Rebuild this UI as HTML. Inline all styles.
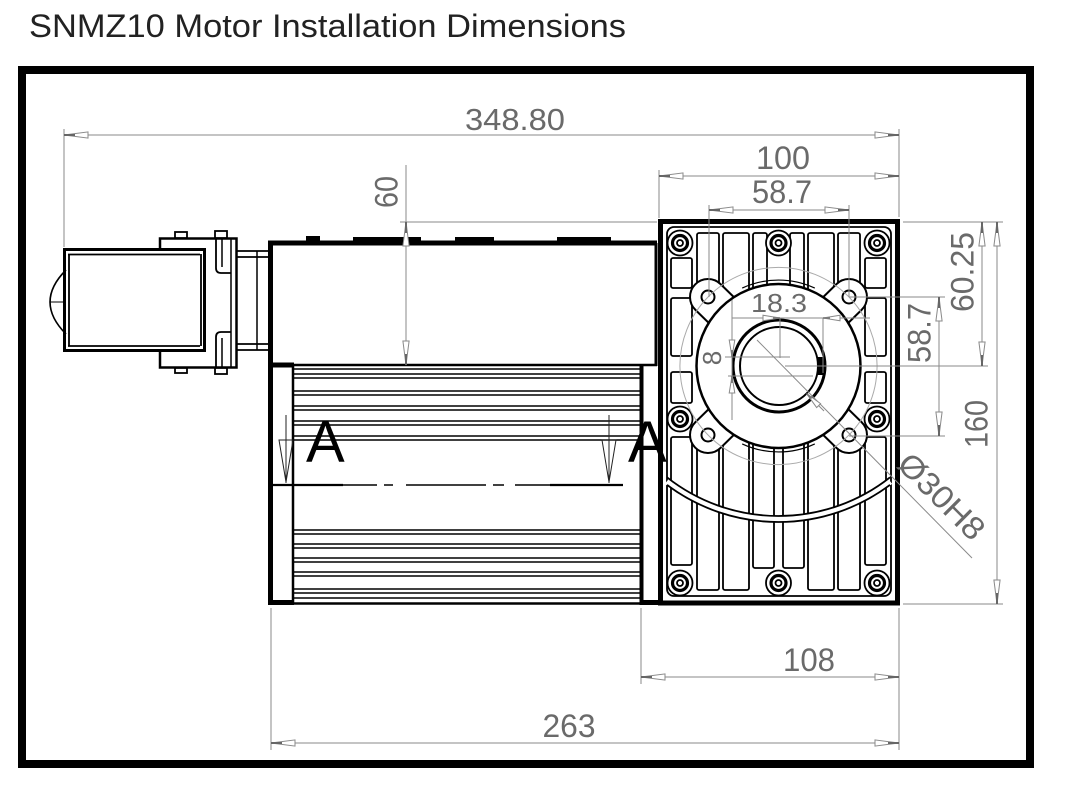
<!DOCTYPE html>
<html>
<head>
<meta charset="utf-8">
<style>
  html,body{margin:0;padding:0;background:#fff;}
  svg{display:block;}
  .t{font-family:"Liberation Sans",sans-serif;fill:#6a6a6a;font-size:32px;}
</style>
</head>
<body>
<svg width="1091" height="786" viewBox="0 0 1091 786" xmlns="http://www.w3.org/2000/svg">
<defs>
  <marker id="ar" viewBox="0 0 26 8" refX="26" refY="4" markerWidth="26" markerHeight="8" orient="auto-start-reverse" markerUnits="userSpaceOnUse" overflow="visible">
    <path d="M26,4 L2,0.9 L2,7.1 Z" fill="#fff" stroke="#8a8a8a" stroke-width="1"/>
    <path d="M26,4 L15,4" stroke="#666" stroke-width="2"/>
  </marker>
  <marker id="as" viewBox="0 0 18 7" refX="18" refY="3.5" markerWidth="18" markerHeight="7" orient="auto-start-reverse" markerUnits="userSpaceOnUse" overflow="visible">
    <path d="M18,3.5 L1,0.7 L1,6.3 Z" fill="#fff" stroke="#8a8a8a" stroke-width="1"/>
    <path d="M18,3.5 L11,3.5" stroke="#777" stroke-width="1.6"/>
  </marker>
</defs>

<rect width="1091" height="786" fill="#fff"/>

<!-- Title -->
<text x="29" y="37" font-family="Liberation Sans, sans-serif" font-size="32" fill="#222" textLength="597" lengthAdjust="spacingAndGlyphs">SNMZ10 Motor Installation Dimensions</text>

<!-- Frame -->
<rect x="22" y="70" width="1008" height="694" fill="none" stroke="#000" stroke-width="8"/>

<!-- ========== MOTOR ========== -->
<g stroke="#000" fill="none">
  <rect x="64.5" y="249.5" width="140" height="101" stroke-width="3"/>
  <path d="M68,254.5 H200 M68,346 H200 M69,254 V346 M201,254 V346" stroke-width="1.8"/>
  <path d="M66,270 Q34,302 66,334" stroke-width="1.6"/>
  <line x1="50" y1="302" x2="64" y2="302" stroke-width="1"/>
  <path d="M160,249 V238.5 H236.5 V367.5 H160 V351" stroke-width="2.5"/>
  <line x1="231" y1="238" x2="231" y2="368" stroke-width="1.5"/>
  <path d="M216,238 V268 Q216,273 221,273 H231" stroke-width="1.8"/>
  <path d="M222,238 V267" stroke-width="1.5"/>
  <path d="M216,368 V337 Q216,332 221,332 H231" stroke-width="1.8"/>
  <path d="M222,368 V338" stroke-width="1.5"/>
  <rect x="175" y="232" width="12" height="6" stroke-width="1.8" fill="#fff"/>
  <rect x="215" y="231" width="12" height="7" stroke-width="1.8" fill="#fff"/>
  <rect x="175" y="368" width="12" height="5" stroke-width="1.8" fill="#fff"/>
  <rect x="215" y="368" width="12" height="6" stroke-width="1.8" fill="#fff"/>
  <path d="M237,251 H268 M237,257 H268 M237,344 H268 M237,350 H268" stroke-width="1.8"/>
  <line x1="257" y1="251" x2="257" y2="350" stroke-width="1.5"/>

  <path d="M270.5,605 V243 H657" stroke-width="5"/>
  <line x1="656" y1="243" x2="656" y2="366" stroke-width="3"/>
  <line x1="268" y1="365" x2="657" y2="365" stroke-width="2.5"/>
  <line x1="268" y1="365" x2="294" y2="365" stroke-width="5"/>

  <line x1="293" y1="365" x2="293" y2="604" stroke-width="2.5"/>
  <line x1="641.5" y1="365" x2="641.5" y2="605" stroke-width="4"/>
  <path d="M293,369H641 M293,374H641 M293,378H641 M293,391H641 M293,395H641 M293,406H641 M293,410H641 M293,421H641 M293,425H641 M293,436H641 M293,440H641 M293,530H641 M293,534H641 M293,544H641 M293,548H641 M293,558H641 M293,562H641 M293,572H641 M293,576H641 M293,589H641 M293,593H641 M293,598H641" stroke-width="1.6"/>
  <line x1="268" y1="603.5" x2="660" y2="603.5" stroke-width="2.5"/>
  <line x1="268" y1="602.5" x2="294" y2="602.5" stroke-width="5"/>
  <line x1="640" y1="602.5" x2="660" y2="602.5" stroke-width="5"/>
</g>
<g fill="#000">
  <rect x="306" y="236" width="14" height="6"/>
  <rect x="353" y="237" width="68" height="5"/>
  <rect x="455" y="237" width="39" height="5"/>
  <rect x="557" y="237" width="54" height="5"/>
</g>

<!-- Section A-A -->
<g stroke="#222" fill="none" stroke-width="1">
  <line x1="286" y1="415" x2="286" y2="483"/>
  <polygon points="279,440 293,440 286,482"/>
  <line x1="609" y1="415" x2="609" y2="483"/>
  <polygon points="602,440 616,440 609,482"/>
</g>
<path d="M272,485 H343" stroke="#000" stroke-width="2.2"/>
<path d="M343,485 H377 M384,485 H393 M406,485 H486 M493,485 H504 M515,485 H550" stroke="#000" stroke-width="1.6"/>
<path d="M550,485 H623" stroke="#000" stroke-width="2.2"/>

<!-- ========== GEARBOX ========== -->
<g stroke="#000">
  <rect x="660.5" y="221.5" width="237" height="381.5" stroke-width="5" fill="#fff"/>
  <rect x="667" y="227" width="224" height="369" rx="7" stroke-width="1.8" fill="none"/>
  <g fill="#fff" stroke-width="1.8">
    <rect x="671" y="258" width="21" height="30" rx="2"/>
    <rect x="671" y="298" width="21" height="58" rx="2"/>
    <rect x="671" y="372" width="21" height="31" rx="2"/>
    <rect x="671" y="437" width="21" height="128" rx="2"/>
    <rect x="865" y="258" width="21" height="30" rx="2"/>
    <rect x="865" y="298" width="21" height="58" rx="2"/>
    <rect x="865" y="372" width="21" height="31" rx="2"/>
    <rect x="865" y="437" width="21" height="128" rx="2"/>
    <rect x="697" y="233" width="22" height="67" rx="2"/>
    <rect x="697" y="420" width="22" height="170" rx="2"/>
    <rect x="838" y="233" width="22" height="67" rx="2"/>
    <rect x="838" y="420" width="22" height="170" rx="2"/>
    <rect x="723" y="233" width="26" height="77" rx="2"/>
    <rect x="723" y="420" width="26" height="170" rx="2"/>
    <rect x="808" y="233" width="26" height="77" rx="2"/>
    <rect x="808" y="420" width="26" height="170" rx="2"/>
    <rect x="753" y="233" width="14" height="67" rx="2"/>
    <rect x="790" y="233" width="14" height="67" rx="2"/>
    <rect x="753" y="420" width="21" height="148" rx="2"/>
    <rect x="783" y="420" width="21" height="148" rx="2"/>
  </g>
  <path d="M667,481.1 A183,183 0 0 0 890,481.1" stroke="#fff" stroke-width="7" fill="none"/>
  <path d="M667,477.3 A180,180 0 0 0 890,477.3" stroke-width="1.8" fill="none"/>
  <path d="M667,484.9 A186,186 0 0 0 890,484.9" stroke-width="1.8" fill="none"/>
  <g fill="#fff" stroke-width="2">
    <path d="M742.03,305.12 L720.59,284.13 A18,18 0 0 0 695.41,309.87 L716.85,330.86 Z"/>
    <path d="M840.15,330.86 L861.59,309.87 A18,18 0 0 0 836.41,284.13 L814.97,305.12 Z"/>
    <path d="M716.85,401.14 L695.41,422.13 A18,18 0 0 0 720.59,447.87 L742.03,426.88 Z"/>
    <path d="M814.97,426.88 L836.41,447.87 A18,18 0 0 0 861.59,422.13 L840.15,401.14 Z"/>
  </g>
  <circle cx="778.5" cy="366" r="82" fill="#fff" stroke-width="2.5"/>
  <path d="M742.2,288.1 A86,86 0 0 1 814.8,288.1" fill="none" stroke-width="1.2"/>
  <path d="M814.8,443.9 A86,86 0 0 1 742.2,443.9" fill="none" stroke-width="1.2"/>
  <g fill="none" stroke-width="2">
    <circle cx="708" cy="297" r="6.5"/>
    <circle cx="849" cy="297" r="6.5"/>
    <circle cx="708" cy="435" r="6.5"/>
    <circle cx="849" cy="435" r="6.5"/>
  </g>
  <circle cx="779" cy="366" r="46" fill="none" stroke-width="3"/>
  <circle cx="779" cy="366" r="39" fill="none" stroke-width="2"/>
  <rect x="817" y="357" width="8" height="18" fill="#000" stroke="none"/>
  <g>
    <g transform="translate(680,243)"><circle r="12.5" fill="#fff" stroke-width="1.8"/><circle r="7.5" fill="none" stroke-width="3.2"/><circle r="3" fill="none" stroke-width="1.8"/></g>
    <g transform="translate(778.5,243)"><circle r="12.5" fill="#fff" stroke-width="1.8"/><circle r="7.5" fill="none" stroke-width="3.2"/><circle r="3" fill="none" stroke-width="1.8"/></g>
    <g transform="translate(877,243)"><circle r="12.5" fill="#fff" stroke-width="1.8"/><circle r="7.5" fill="none" stroke-width="3.2"/><circle r="3" fill="none" stroke-width="1.8"/></g>
    <g transform="translate(680,419)"><circle r="12.5" fill="#fff" stroke-width="1.8"/><circle r="7.5" fill="none" stroke-width="3.2"/><circle r="3" fill="none" stroke-width="1.8"/></g>
    <g transform="translate(877,419)"><circle r="12.5" fill="#fff" stroke-width="1.8"/><circle r="7.5" fill="none" stroke-width="3.2"/><circle r="3" fill="none" stroke-width="1.8"/></g>
    <g transform="translate(680,583)"><circle r="12.5" fill="#fff" stroke-width="1.8"/><circle r="7.5" fill="none" stroke-width="3.2"/><circle r="3" fill="none" stroke-width="1.8"/></g>
    <g transform="translate(778.5,583)"><circle r="12.5" fill="#fff" stroke-width="1.8"/><circle r="7.5" fill="none" stroke-width="3.2"/><circle r="3" fill="none" stroke-width="1.8"/></g>
    <g transform="translate(877,583)"><circle r="12.5" fill="#fff" stroke-width="1.8"/><circle r="7.5" fill="none" stroke-width="3.2"/><circle r="3" fill="none" stroke-width="1.8"/></g>
  </g>
</g>

<circle cx="778.5" cy="366" r="98.6" fill="none" stroke="#aaa" stroke-width="1"/>

<!-- ========== DIMENSIONS ========== -->
<g stroke="#8a8a8a" stroke-width="1" fill="none">
  <line x1="64" y1="129" x2="64" y2="247"/>
  <line x1="899" y1="129" x2="899" y2="217"/>
  <line x1="64" y1="135" x2="899" y2="135" marker-start="url(#ar)" marker-end="url(#ar)"/>
  <line x1="659" y1="170" x2="659" y2="218"/>
  <line x1="659" y1="176" x2="899" y2="176" marker-start="url(#ar)" marker-end="url(#ar)"/>
  <line x1="709" y1="205" x2="709" y2="297"/>
  <line x1="849" y1="205" x2="849" y2="297"/>
  <line x1="709" y1="210" x2="849" y2="210" marker-start="url(#ar)" marker-end="url(#ar)"/>
  <line x1="400" y1="222" x2="657" y2="222"/>
  <line x1="406" y1="165" x2="406" y2="222"/>
  <line x1="406" y1="222" x2="406" y2="365" marker-start="url(#ar)" marker-end="url(#ar)"/>
  <line x1="903" y1="222" x2="1003" y2="222"/>
  <line x1="903" y1="604" x2="1003" y2="604"/>
  <line x1="785" y1="366" x2="988" y2="366"/>
  <line x1="849" y1="297" x2="945" y2="297"/>
  <line x1="849" y1="436" x2="945" y2="436"/>
  <line x1="982" y1="222" x2="982" y2="366" marker-start="url(#ar)" marker-end="url(#ar)"/>
  <line x1="997" y1="222" x2="997" y2="604" marker-start="url(#ar)" marker-end="url(#ar)"/>
  <line x1="939" y1="297" x2="939" y2="436" marker-start="url(#ar)" marker-end="url(#ar)"/>
  <line x1="641" y1="608" x2="641" y2="684"/>
  <line x1="271" y1="608" x2="271" y2="750"/>
  <line x1="899" y1="608" x2="899" y2="750"/>
  <line x1="641" y1="677" x2="899" y2="677" marker-start="url(#ar)" marker-end="url(#ar)"/>
  <line x1="271" y1="743" x2="899" y2="743" marker-start="url(#ar)" marker-end="url(#ar)"/>
  <line x1="732" y1="318" x2="870" y2="318"/>
  <line x1="780" y1="318" x2="780" y2="358"/>
  <line x1="823" y1="318" x2="823" y2="373"/>
  <line x1="755" y1="318" x2="780" y2="318" marker-end="url(#as)"/>
  <line x1="848" y1="318" x2="823" y2="318" marker-end="url(#as)"/>
  <line x1="732" y1="300" x2="732" y2="420"/>
  <line x1="725" y1="357" x2="790" y2="357"/>
  <line x1="728" y1="376" x2="813" y2="376"/>
  <line x1="732" y1="332" x2="732" y2="357" marker-end="url(#as)"/>
  <line x1="732" y1="401" x2="732" y2="376" marker-end="url(#as)"/>
  <line x1="757" y1="340" x2="972" y2="558"/>
  <line x1="824" y1="411" x2="806.6" y2="393.6" marker-end="url(#as)"/>
</g>

<g class="t">
  <text x="515" y="130" text-anchor="middle" font-size="31" textLength="100" lengthAdjust="spacingAndGlyphs">348.80</text>
  <text x="783" y="169" text-anchor="middle" textLength="54" lengthAdjust="spacingAndGlyphs">100</text>
  <text x="782" y="203" text-anchor="middle" textLength="60" lengthAdjust="spacingAndGlyphs">58.7</text>
  <text x="809" y="671" text-anchor="middle" textLength="52" lengthAdjust="spacingAndGlyphs">108</text>
  <text x="569" y="737" text-anchor="middle" textLength="53" lengthAdjust="spacingAndGlyphs">263</text>
  <text transform="translate(386,192) rotate(-90)" x="0" y="11.5" text-anchor="middle" textLength="32" lengthAdjust="spacingAndGlyphs">60</text>
  <text transform="translate(962,272) rotate(-90)" x="0" y="11.5" text-anchor="middle" textLength="80" lengthAdjust="spacingAndGlyphs">60.25</text>
  <text transform="translate(919,333) rotate(-90)" x="0" y="11.5" text-anchor="middle" textLength="60" lengthAdjust="spacingAndGlyphs">58.7</text>
  <text transform="translate(976,424) rotate(-90)" x="0" y="11.5" text-anchor="middle" textLength="48" lengthAdjust="spacingAndGlyphs">160</text>
  <text x="779" y="312" text-anchor="middle" font-size="26" textLength="56" lengthAdjust="spacingAndGlyphs">18.3</text>
  <text transform="translate(712,358) rotate(-90)" x="0" y="9" text-anchor="middle" font-size="26">8</text>
  <text transform="translate(942,496) rotate(45)" x="0" y="11.5" text-anchor="middle" textLength="108" lengthAdjust="spacingAndGlyphs">Ø30H8</text>
</g>

<text x="306" y="462" font-family="Liberation Sans, sans-serif" font-size="58" fill="#000">A</text>
<text x="628" y="462" font-family="Liberation Sans, sans-serif" font-size="58" fill="#000">A</text>
</svg>
</body>
</html>
